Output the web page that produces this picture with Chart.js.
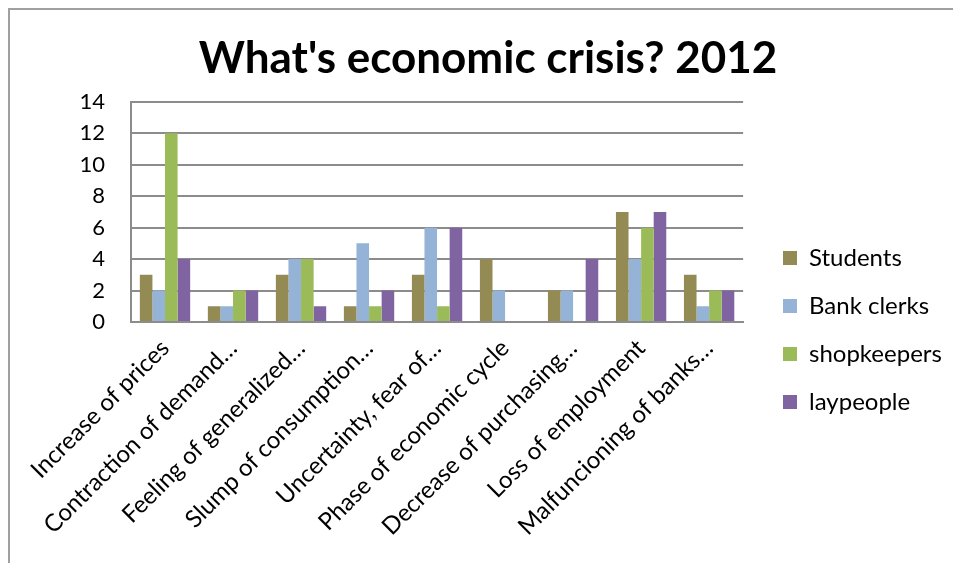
<!DOCTYPE html>
<html>
<head>
<meta charset="utf-8">
<script src="https://cdn.jsdelivr.net/npm/chart.js@4/dist/chart.umd.min.js"></script>
<style>
  html, body { margin: 0; padding: 0; background: #fff; overflow: hidden; }
  #wrap { position: relative; width: 953px; height: 563px; }
  #frame { position: absolute; left: 8px; top: 8px; width: 960px; height: 570px;
           border: 2px solid #a0a0a0; box-sizing: border-box; pointer-events: none; }
  canvas { position: absolute; left: 0; top: 0; }
</style>
</head>
<body>
<div id="wrap">
  <canvas id="c" width="953" height="563"></canvas>
  <div id="frame"></div>
</div>
<script>
const categories = [
  "Increase of prices",
  "Contraction of demand…",
  "Feeling of generalized…",
  "Slump of consumption…",
  "Uncertainty, fear of…",
  "Phase of economic cycle",
  "Decrease of purchasing…",
  "Loss of employment",
  "Malfuncioning of banks…"
];
const students    = [3, 1, 3, 1, 3, 4, 2, 7, 3];
const bankClerks  = [2, 1, 4, 5, 6, 2, 2, 4, 1];
const shopkeepers = [12, 2, 4, 1, 1, 0, 0, 6, 2];
const laypeople   = [4, 2, 1, 2, 6, 0, 4, 7, 2];
const yTicks = [0, 2, 4, 6, 8, 10, 12, 14];

const FONT = "Lato, 'Open Sans', sans-serif";

// Place the legend block (first swatch at x=783, items centred around y=330)
// and centre the title over x=488.
const blockPlacer = {
  id: 'blockPlacer',
  afterLayout(chart) {
    const lg = chart.legend;
    if (lg) {
      const pad = lg.options.labels.padding;
      const w = lg.width, h = lg.height;
      lg.left = 783 - pad;
      lg.right = lg.left + w;
      lg.top = 330 - h / 2;
      lg.bottom = lg.top + h;
    }
    const tb = chart.titleBlock;
    if (tb) {
      const dx = 488 - (tb.left + tb.right) / 2;
      tb.left += dx;
      tb.right += dx;
    }
  }
};

const chart = new Chart(document.getElementById('c'), {
  type: 'bar',
  data: {
    labels: categories,
    datasets: [
      { label: 'Students',    data: students,    backgroundColor: '#948A54' },
      { label: 'Bank clerks', data: bankClerks,  backgroundColor: '#95B3D7' },
      { label: 'shopkeepers', data: shopkeepers, backgroundColor: '#9BBB59' },
      { label: 'laypeople',   data: laypeople,   backgroundColor: '#8064A2' }
    ]
  },
  plugins: [blockPlacer],
  options: {
    responsive: false,
    animation: false,
    layout: { padding: { left: 0, right: 17, top: 0, bottom: 0 } },
    datasets: { bar: { categoryPercentage: 0.74, barPercentage: 1.0, borderWidth: 0 } },
    plugins: {
      title: {
        display: true,
        text: "What's economic crisis? 2012",
        color: '#000',
        font: { family: FONT, size: 44, weight: 'bold', lineHeight: 1.2 },
        padding: { top: 32, bottom: 17 }
      },
      legend: {
        position: 'right',
        align: 'center',
        labels: {
          color: '#000',
          font: { family: FONT, size: 24 },
          boxWidth: 14,
          boxHeight: 14,
          padding: 24
        }
      },
      tooltip: { enabled: false }
    },
    scales: {
      x: {
        grid: { display: false, drawTicks: false },
        border: { display: true, color: '#8c8c8c', width: 2 },
        ticks: {
          color: '#000',
          font: { family: FONT, size: 24 },
          minRotation: 45,
          maxRotation: 45,
          autoSkip: false,
          padding: 12
        },
        afterFit: (s) => { s.height = 241; }
      },
      y: {
        min: 0,
        max: 14,
        afterBuildTicks: (s) => { s.ticks = yTicks.map(v => ({ value: v })); },
        grid: { color: '#8c8c8c', lineWidth: 2, drawTicks: false },
        border: { display: true, color: '#8c8c8c', width: 2 },
        ticks: {
          color: '#000',
          font: { family: FONT, size: 22 },
          padding: 26
        },
        afterFit: (s) => { s.width = 131; }
      }
    }
  }
});
</script>
</body>
</html>
